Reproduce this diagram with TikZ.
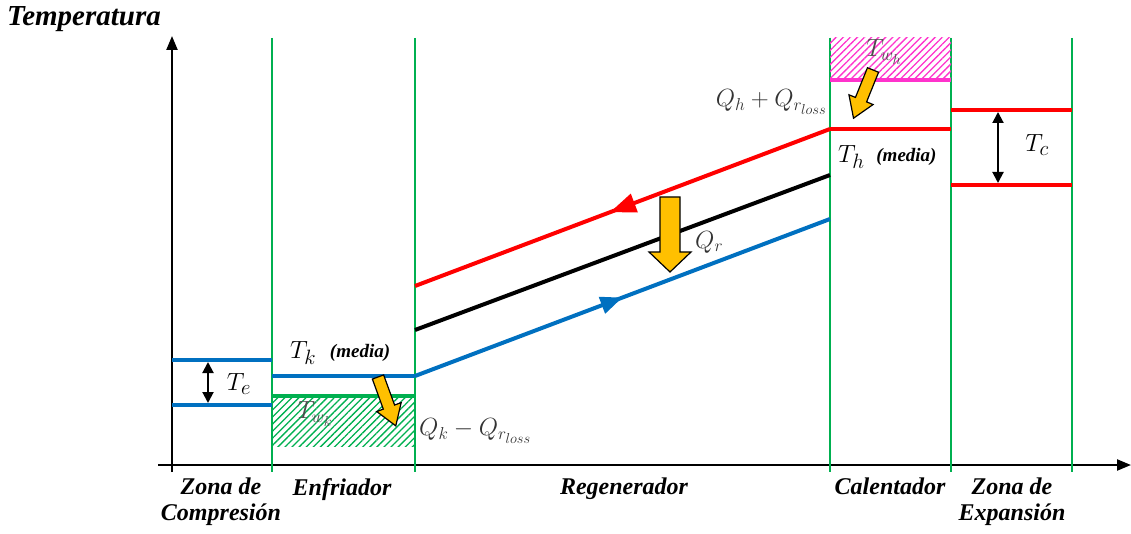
\documentclass[tikz,border=0pt]{standalone}
\usepackage{fontspec}
\setmainfont{Liberation Serif}
\usetikzlibrary{arrows.meta, positioning, patterns.meta, decorations.markings}
\definecolor{lvlred}{RGB}{255,0,0}
\definecolor{lvlblue}{RGB}{0,112,192}
\definecolor{zonegreen}{RGB}{0,176,80}
\definecolor{heatorange}{RGB}{255,192,0}
\definecolor{hotmag}{RGB}{255,51,204}
\tikzset{
  axis/.style={line width=2.2pt, draw=black, -{Triangle[length=14pt, width=11pt]}},
  zoneline/.style={draw=zonegreen, line width=1.4pt},
  level/.style={line width=4pt},
  dblarr/.style={line width=2pt, {Triangle[length=11pt, width=11pt]}-{Triangle[length=11pt, width=11pt]}},
  heatarr/.style={draw=black, fill=heatorange, line width=1.2pt, line join=miter},
  hatchbox/.style={pattern={Lines[angle=45, distance=5pt, line width=1.3pt]}},
  fwdarrow/.style={postaction={decorate}, decoration={markings,
      mark=at position #1 with {\arrow{Triangle[length=22pt, width=17pt]}}}},
  backarrow/.style={postaction={decorate}, decoration={markings,
      mark=at position #1 with {\arrowreversed{Triangle[length=26pt, width=19pt]}}}},
  mathlbl/.style={font=\fontsize{28}{32}\selectfont, inner sep=0pt},
  qlbl/.style={font=\fontsize{27}{30}\selectfont, inner sep=0pt, text=black!80},
  medialbl/.style={font=\fontsize{19}{22}\selectfont\bfseries\itshape},
  zonelbl/.style={font=\fontsize{24}{26}\selectfont\bfseries\itshape, align=center, inner sep=0pt},
  pics/smallheat/.style={code={
    \draw[heatarr] (0,-6) -- (32,-6) -- (32,-13) -- (52,0) -- (32,13) -- (32,6) -- (0,6) -- cycle;
  }},
  pics/bigheat/.style={code={
    \draw[heatarr] (0,-10) -- (55,-10) -- (55,-21) -- (75,0) -- (55,21) -- (55,10) -- (0,10) -- cycle;
  }},
}

\begin{document}
\begin{tikzpicture}[x=1pt, y=-1pt]
\useasboundingbox (0,0) rectangle (1131,534);

% --- Axes ---
\coordinate (xstart) at (158,465);
\coordinate (xend) at (1131,465);
\coordinate (ystart) at (172,472);
\coordinate (yend) at (172,36);
\draw[axis] (xstart) -- (xend);
\draw[axis] (ystart) -- (yend);
\node[zonelbl, font=\fontsize{29}{32}\selectfont\bfseries\itshape, anchor=west] (templbl) at (7,19) {Temperatura};

% --- Zone boundaries ---
\draw[zoneline] (272,38) -- (272,472);
\draw[zoneline] (415,38) -- (415,472);
\draw[zoneline] (830,38) -- (830,472);
\draw[zoneline] (951,38) -- (951,472);
\draw[zoneline] (1072,38) -- (1072,472);

% --- Compression zone ---
\draw[level, draw=lvlblue] (172,360) -- (272,360);
\draw[level, draw=lvlblue] (172,405) -- (272,405);
\coordinate (tetop) at (208,362);
\coordinate (tebot) at (208,403);
\draw[dblarr] (tetop) -- (tebot);
\node[mathlbl] (te) at (239,384) {$T_e$};

% --- Cooler ---
\fill[hatchbox, pattern color=zonegreen] (272,398) rectangle (415,446);
\draw[level, draw=zonegreen] (272,396) -- (415,396);
\draw[level, draw=lvlblue] (272,376) -- (415,376);
\node[mathlbl, anchor=west] (tk) at (290,353) {$T_k$};
\node[medialbl, right=10pt of tk] (tkmedia) {(media)};
\node[qlbl, text=black!70] (twk) at (315,414) {$T_{w_k}$};
\pic[rotate=-70] (qkheat) at (378,377) {smallheat};
\node[qlbl, anchor=west] (qk) at (419,431) {$Q_k - Q_{r_{loss}}$};

% --- Regenerator ---
\coordinate (redL) at (415,286);
\coordinate (redR) at (830,129);
\coordinate (blkL) at (415,330);
\coordinate (blkR) at (830,175);
\coordinate (bluL) at (415,376);
\coordinate (bluR) at (830,219);
\draw[level, draw=lvlred, backarrow=0.47] (redL) -- (redR);
\draw[level, draw=black] (blkL) -- (blkR);
\draw[level, draw=lvlblue, fwdarrow=0.5] (bluL) -- (bluR);
\pic[rotate=-90] (qrheat) at (670,197) {bigheat};
\node[qlbl, anchor=west] (qr) at (695,242) {$Q_r$};

% --- Heater ---
\fill[hatchbox, pattern color=hotmag] (830,38) rectangle (951,78);
\draw[level, draw=hotmag] (830,80) -- (951,80);
\draw[level, draw=lvlred] (830,129) -- (951,129);
\node[qlbl, text=black!70] (twh) at (884,52) {$T_{w_h}$};
\pic[rotate=-112] (qhheat) at (873,70) {smallheat};
\node[qlbl, anchor=east] (qh) at (827,102) {$Q_h + Q_{r_{loss}}$};
\node[mathlbl, anchor=west] (th) at (838,157) {$T_h$};
\node[medialbl, right=8pt of th] (thmedia) {(media)};

% --- Expansion zone ---
\draw[level, draw=lvlred] (951,110) -- (1072,110);
\draw[level, draw=lvlred] (951,185) -- (1072,185);
\coordinate (tctop) at (998,112);
\coordinate (tcbot) at (998,183);
\draw[dblarr] (tctop) -- (tcbot);
\node[mathlbl] (tc) at (1037,145) {$T_c$};

% --- Zone names ---
\node[zonelbl, anchor=north] (zcomp) at (221,478) {Zona de\\Compresión};
\node[zonelbl, anchor=north] (zcool) at (342,478) {Enfriador};
\node[zonelbl, anchor=north] (zregen) at (624,478) {Regenerador};
\node[zonelbl, anchor=north] (zheat) at (890,478) {Calentador};
\node[zonelbl, anchor=north] (zexp) at (1012,478) {Zona de\\Expansión};

\end{tikzpicture}
\end{document}
